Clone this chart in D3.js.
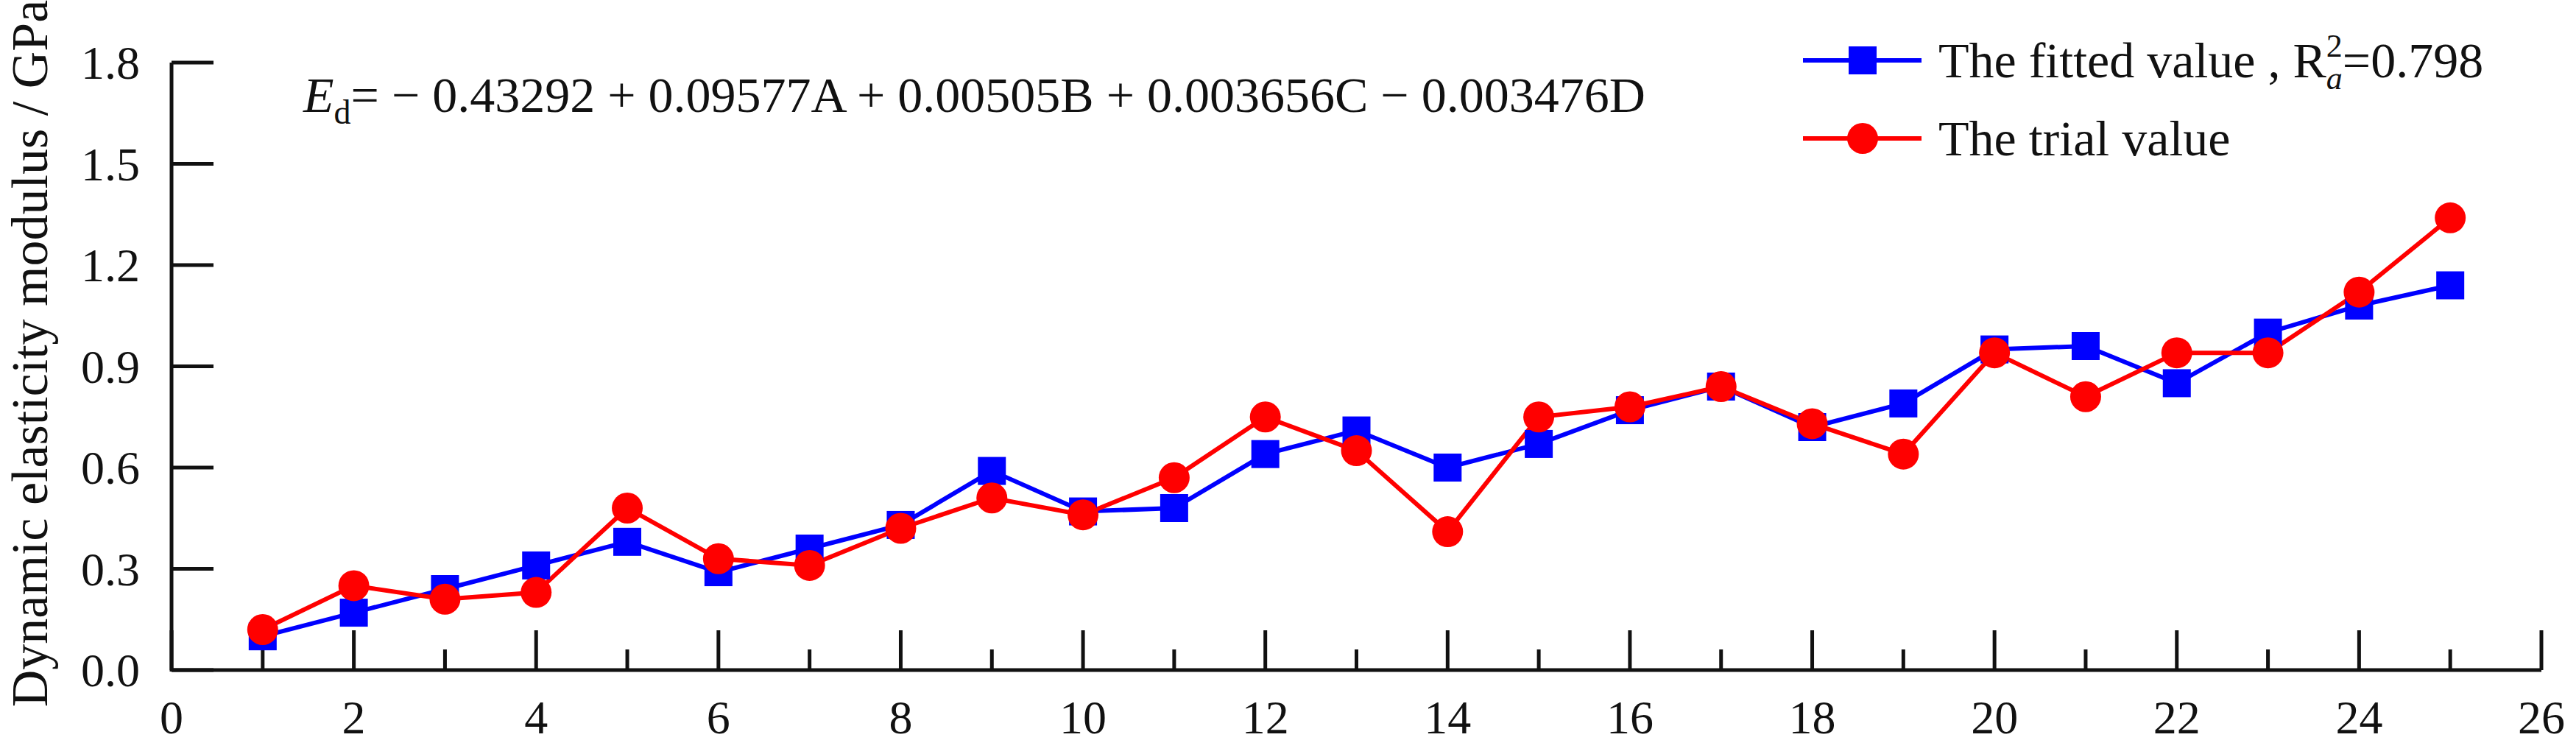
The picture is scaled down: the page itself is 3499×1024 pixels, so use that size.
<!DOCTYPE html>
<html><head><meta charset="utf-8">
<script src="https://cdn.jsdelivr.net/npm/d3@7"></script>
<style>body{margin:0;background:#fff}text{font-family:"Liberation Serif","Times New Roman",serif;fill:#111}</style>
</head><body><svg id="c" width="3499" height="1024"></svg>
<script>
const samples = d3.range(1, 26);
const fitted = [0.10,0.17,0.24,0.31,0.38,0.29,0.36,0.43,0.59,0.47,0.48,0.64,0.71,0.60,0.67,0.77,0.84,0.72,0.79,0.95,0.96,0.85,1.00,1.08,1.14];
const trial  = [0.12,0.25,0.21,0.23,0.48,0.33,0.31,0.42,0.51,0.46,0.57,0.75,0.65,0.41,0.75,0.78,0.84,0.73,0.64,0.94,0.81,0.94,0.94,1.12,1.34];
const xTicks = d3.range(0, 27, 2);
const yTicks = [0,0.3,0.6,0.9,1.2,1.5,1.8];

const svg = d3.select("#c");
const x = d3.scaleLinear().domain([0,26]).range([233,3452]);
const y = d3.scaleLinear().domain([0,1.8]).range([910,85]);
const ax = "#111";
const FS = 64;

svg.append("line").attr("x1",x(0)).attr("x2",x(26)).attr("y1",y(0)).attr("y2",y(0)).attr("stroke",ax).attr("stroke-width",5);
d3.range(0,27).forEach(v=>{
  const major = v%2===0;
  svg.append("line").attr("x1",x(v)).attr("x2",x(v)).attr("y1",y(0)).attr("y2",y(0)-(major?54:28)).attr("stroke",ax).attr("stroke-width",5);
});
xTicks.forEach(v=>svg.append("text").attr("x",x(v)).attr("y",996).attr("text-anchor","middle").attr("font-size",FS).text(v));
svg.append("line").attr("x1",x(0)).attr("x2",x(0)).attr("y1",y(0)+2).attr("y2",y(1.8)).attr("stroke",ax).attr("stroke-width",5);
yTicks.forEach(v=>{
  svg.append("line").attr("x1",x(0)).attr("x2",x(0)+57).attr("y1",y(v)).attr("y2",y(v)).attr("stroke",ax).attr("stroke-width",5);
  svg.append("text").attr("x",190).attr("y",y(v)+22).attr("text-anchor","end").attr("font-size",FS).text(v.toFixed(1));
});
svg.append("text").attr("transform","translate(64,480) rotate(-90)").attr("text-anchor","middle").attr("font-size",70).text("Dynamic elasticity modulus / GPa");

const eq = svg.append("text").attr("x",412).attr("y",152).attr("font-size",68);
eq.append("tspan").attr("font-style","italic").text("E");
eq.append("tspan").attr("font-size",46).attr("dy",16).text("d");
eq.append("tspan").attr("dy",-16).text("= \u2212 0.43292 + 0.09577A + 0.00505B + 0.003656C \u2212 0.003476D");

const line = d3.line().x((d,i)=>x(samples[i])).y(d=>y(d));
svg.append("path").datum(fitted).attr("d",line).attr("fill","none").attr("stroke","#0000ff").attr("stroke-width",6);
svg.append("path").datum(trial).attr("d",line).attr("fill","none").attr("stroke","#ff0000").attr("stroke-width",6);
svg.selectAll(".sq").data(fitted).enter().append("rect").attr("x",(d,i)=>x(samples[i])-19).attr("y",d=>y(d)-19).attr("width",38).attr("height",38).attr("fill","#0000ff");
svg.selectAll(".ci").data(trial).enter().append("circle").attr("cx",(d,i)=>x(samples[i])).attr("cy",d=>y(d)).attr("r",21).attr("fill","#ff0000");

svg.append("line").attr("x1",2449).attr("x2",2610).attr("y1",82).attr("y2",82).attr("stroke","#0000ff").attr("stroke-width",6);
svg.append("rect").attr("x",2511).attr("y",63).attr("width",38).attr("height",38).attr("fill","#0000ff");
svg.append("line").attr("x1",2449).attr("x2",2610).attr("y1",188).attr("y2",188).attr("stroke","#ff0000").attr("stroke-width",6);
svg.append("circle").attr("cx",2530).attr("cy",188).attr("r",21).attr("fill","#ff0000");
const l1 = svg.append("text").attr("x",2633).attr("y",105).attr("font-size",68);
l1.append("tspan").text("The fitted value , R");
l1.append("tspan").attr("font-size",44).attr("dy",-28).text("2");
l1.append("tspan").attr("font-size",44).attr("font-style","italic").attr("dx",-22).attr("dy",44).text("a");
l1.append("tspan").attr("dy",-16).text("=0.798");
svg.append("text").attr("x",2633).attr("y",211).attr("font-size",68).text("The trial value");
</script></body></html>
